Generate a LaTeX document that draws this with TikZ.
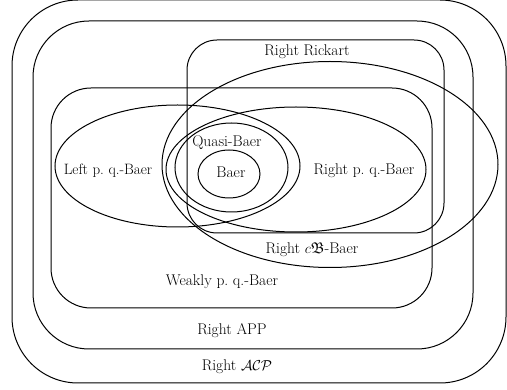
\documentclass[tikz,border=0pt]{standalone}
\usepackage{amsmath}
\usepackage{amssymb}
\usepackage{tikz}
\usetikzlibrary{shapes.geometric}

\begin{document}
\begin{tikzpicture}[x=1pt, y=-1pt,
    every node/.style = {inner sep=0pt, outer sep=0pt},
    setbox/.style = {draw, line width=1pt, shape=rectangle},
    setoval/.style = {draw, line width=1pt, shape=ellipse},
    settext/.style = {font=\fontsize{15.5}{18}\selectfont}]
  \useasboundingbox (0,0) rectangle (507,390);
  % the nested classes
  \node[setbox, rounded corners=66pt, minimum width=494pt, minimum height=383pt] (acp) at (259,191.5) {};
  \node[setbox, rounded corners=56pt, minimum width=440pt, minimum height=328pt] (app) at (253,185) {};
  \node[setbox, rounded corners=40pt, minimum width=381pt, minimum height=220pt] (weak) at (241.5,198) {};
  \node[setbox, rounded corners=30pt, minimum width=257pt, minimum height=193pt] (rick) at (315.5,136.5) {};
  \node[setoval, minimum width=336pt, minimum height=206pt] (cb) at (330,164.5) {};
  \node[setoval, minimum width=245pt, minimum height=122pt] (lpq) at (177.5,166) {};
  \node[setoval, minimum width=260pt, minimum height=125pt] (rpq) at (296,169.5) {};
  \node[setoval, minimum width=113pt, minimum height=89pt] (quasi) at (231.5,167.5) {};
  \node[setoval, minimum width=62pt, minimum height=48pt] (baer) at (229,174) {};
  % labels
  \node[settext] (acplabel) at (237,367) {Right $\mathcal{ACP}$};
  \node[settext] (applabel) at (232,331) {Right APP};
  \node[settext] (weaklabel) at (222,282) {Weakly p.\ q.-Baer};
  \node[settext] (ricklabel) at (307,52) {Right Rickart};
  \node[settext] (cblabel) at (312,250) {Right $c\mathfrak{B}$-Baer};
  \node[settext, font=\fontsize{15}{18}\selectfont] (lpqlabel) at (108,171) {Left p.\ q.-Baer};
  \node[settext] (rpqlabel) at (364,171) {Right p.\ q.-Baer};
  \node[settext] (quasilabel) at (227,143) {Quasi-Baer};
  \node[settext] (baerlabel) at (231,172) {Baer};
\end{tikzpicture}
\end{document}
